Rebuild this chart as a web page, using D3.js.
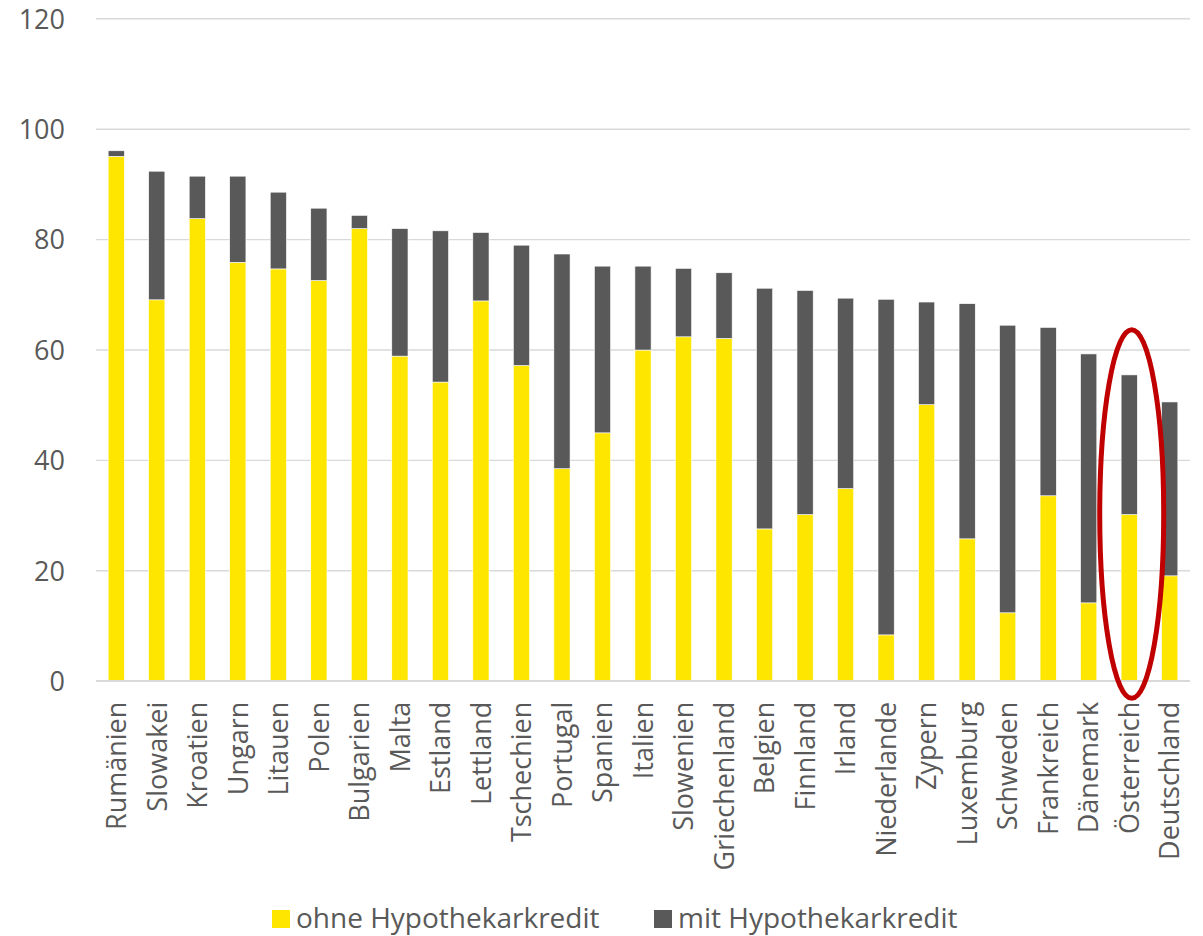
<!DOCTYPE html>
<html lang="de">
<head>
<meta charset="utf-8">
<script src="https://cdn.jsdelivr.net/npm/d3@7"></script>
<style>
  html, body { margin: 0; padding: 0; background: #fff; }
  svg { display: block; font-family: "Open Sans", "Noto Sans", sans-serif; }
</style>
</head>
<body>
<svg id="chart" width="1203" height="936"></svg>
<script>
// Länder, absteigend nach Gesamtanteil sortiert
const countries = ["Rumänien", "Slowakei", "Kroatien", "Ungarn", "Litauen", "Polen", "Bulgarien",
  "Malta", "Estland", "Lettland", "Tschechien", "Portugal", "Spanien", "Italien", "Slowenien",
  "Griechenland", "Belgien", "Finnland", "Irland", "Niederlande", "Zypern", "Luxemburg",
  "Schweden", "Frankreich", "Dänemark", "Österreich", "Deutschland"];

// Anteil ohne Hypothekarkredit (%)
const ohneHypothek = [95.0, 69.0, 83.7, 75.8, 74.6, 72.5, 81.9, 58.8, 54.1, 68.8, 57.1, 38.4, 44.9,
  59.9, 62.3, 62.0, 27.5, 30.1, 34.8, 8.3, 50.0, 25.7, 12.3, 33.5, 14.1, 30.1, 19.0];

// Anteil mit Hypothekarkredit (%)
const mitHypothek = [1.0, 23.3, 7.7, 15.6, 13.9, 13.1, 2.4, 23.1, 27.4, 12.4, 21.8, 38.9, 30.2,
  15.2, 12.4, 11.9, 43.6, 40.6, 34.5, 60.8, 18.6, 42.6, 52.1, 30.5, 45.1, 25.3, 31.5];

const seriesNames = ["ohne Hypothekarkredit", "mit Hypothekarkredit"];
const seriesColors = ["#FFE600", "#595959"];
const yTicks = [0, 20, 40, 60, 80, 100, 120];

// Hervorgehobenes Land
const highlight = "Österreich";

const svg = d3.select("#chart");
const plot = { left: 96, right: 1190, top: 18.3, bottom: 680.7 };
const textColor = "#595959";
const fontSize = 27;

const x = d3.scaleBand()
  .domain(countries)
  .range([plot.left, plot.right])
  .paddingInner(0.6)
  .paddingOuter(0.3);

const y = d3.scaleLinear()
  .domain([0, 120])
  .range([plot.bottom, plot.top]);

// Gitterlinien und Y-Beschriftung
const yAxis = d3.axisLeft(y)
  .tickValues(yTicks)
  .tickSize(-(plot.right - plot.left))
  .tickPadding(31)
  .tickFormat(d3.format("d"));

const gy = svg.append("g")
  .attr("transform", `translate(${plot.left},0)`)
  .call(yAxis);
gy.select(".domain").remove();
gy.selectAll(".tick line").attr("stroke", "#D9D9D9").attr("stroke-width", 1.4);
gy.selectAll(".tick text")
  .attr("fill", textColor)
  .attr("font-size", fontSize)
  .attr("font-family", "'Open Sans', sans-serif")
  .attr("dy", "0.36em");

// Gestapelte Balken
const rows = countries.map((c, i) => ({ country: c, ohne: ohneHypothek[i], mit: mitHypothek[i] }));
const stack = d3.stack().keys(["ohne", "mit"]);
const layers = stack(rows);

svg.append("g")
  .selectAll("g")
  .data(layers)
  .join("g")
  .attr("fill", (d, i) => seriesColors[i])
  .selectAll("rect")
  .data(d => d)
  .join("rect")
  .attr("x", d => x(d.data.country))
  .attr("width", x.bandwidth())
  .attr("y", d => y(d[1]))
  .attr("height", d => y(d[0]) - y(d[1]))
  .attr("stroke", "#ffffff")
  .attr("stroke-width", 0.6);

// Achsenlinie bei 0 über den Balken
svg.append("line")
  .attr("x1", plot.left).attr("x2", plot.right)
  .attr("y1", y(0)).attr("y2", y(0))
  .attr("stroke", "#D9D9D9").attr("stroke-width", 1.4);

// Länderbeschriftung (gedreht)
const xAxis = d3.axisBottom(x).tickSize(0).tickPadding(0);
const gx = svg.append("g")
  .attr("transform", `translate(0,${plot.bottom})`)
  .call(xAxis);
gx.select(".domain").remove();
gx.selectAll(".tick text")
  .attr("fill", textColor)
  .attr("font-size", fontSize)
  .attr("font-family", "'Open Sans', sans-serif")
  .attr("text-anchor", "end")
  .attr("transform", "rotate(-90)")
  .attr("x", -21)
  .attr("y", 0)
  .attr("dy", "0.36em");

// Markierung Österreich
const hx = x(highlight) + x.bandwidth() / 2 + 2.5;
const hTop = 63.6, hBottom = -3.2;
svg.append("ellipse")
  .attr("cx", hx)
  .attr("cy", (y(hTop) + y(hBottom)) / 2)
  .attr("rx", 32)
  .attr("ry", (y(hBottom) - y(hTop)) / 2)
  .attr("fill", "none")
  .attr("stroke", "#C00000")
  .attr("stroke-width", 5);

// Legende
const legendItems = [
  { name: seriesNames[0], color: seriesColors[0], x: 272 },
  { name: seriesNames[1], color: seriesColors[1], x: 654 }
];
const lg = svg.append("g").selectAll("g")
  .data(legendItems)
  .join("g")
  .attr("transform", d => `translate(${d.x},918)`);
lg.append("rect")
  .attr("x", 0).attr("y", -8)
  .attr("width", 18).attr("height", 18)
  .attr("fill", d => d.color);
lg.append("text")
  .attr("x", 24)
  .attr("dy", "0.34em")
  .attr("fill", textColor)
  .attr("font-size", 28)
  .text(d => d.name);
</script>
</body>
</html>
